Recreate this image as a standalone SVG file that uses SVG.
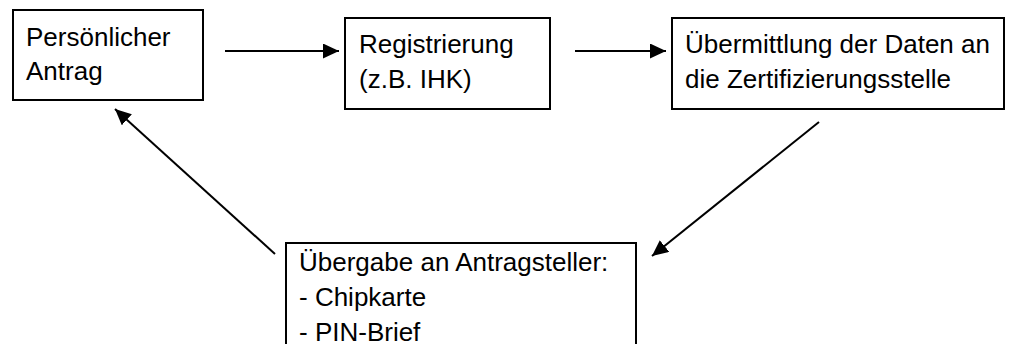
<svg xmlns="http://www.w3.org/2000/svg" width="1012" height="344" viewBox="0 0 1012 344">
<defs>
<style>
.box{fill:#fff;stroke:#000;stroke-width:2}
.t{font-family:"Liberation Sans",Arial,sans-serif;font-size:26px;fill:#000}
.c{stroke:#000;stroke-width:2;fill:none}
</style>
<marker id="ah" markerUnits="userSpaceOnUse" markerWidth="17" markerHeight="16" refX="16" refY="7.5" orient="auto">
<path d="M0,0 L16,7.5 L0,15 z" fill="#000"/>
</marker>
</defs>
<rect width="1012" height="344" fill="#fff"/>
<g id="connectors">
<line class="c" x1="225" y1="51" x2="339" y2="51" marker-end="url(#ah)"/>
<line class="c" x1="575" y1="51" x2="666" y2="51" marker-end="url(#ah)"/>
<line class="c" x1="819" y1="122" x2="652" y2="256" marker-end="url(#ah)"/>
<line class="c" x1="275" y1="254" x2="115" y2="109" marker-end="url(#ah)"/>
</g>
<g id="n1">
<rect class="box" x="13" y="10" width="190" height="90"/>
<text class="t" x="26" y="45.5">Persönlicher</text>
<text class="t" x="26" y="80">Antrag</text>
</g>
<g id="n2">
<rect class="box" x="345" y="18" width="205" height="91"/>
<text class="t" x="359" y="53">Registrierung</text>
<text class="t" x="359" y="87.5">(z.B. IHK)</text>
</g>
<g id="n3">
<rect class="box" x="672" y="18" width="332" height="91"/>
<text class="t" x="685" y="53">Übermittlung der Daten an</text>
<text class="t" x="685" y="87.5">die Zertifizierungsstelle</text>
</g>
<g id="n4">
<rect class="box" x="286" y="243" width="350" height="120"/>
<text class="t" x="299" y="271">Übergabe an Antragsteller:</text>
<text class="t" x="299" y="306">- Chipkarte</text>
<text class="t" x="299" y="341">- PIN-Brief</text>
</g>
</svg>
